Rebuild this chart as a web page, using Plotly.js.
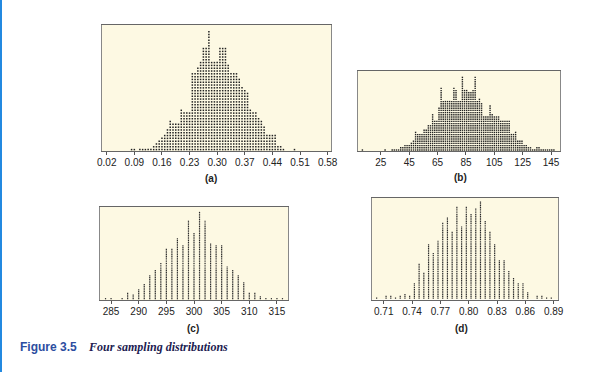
<!DOCTYPE html>
<html>
<head>
<meta charset="utf-8">
<script src="https://cdn.plot.ly/plotly-3.0.1.min.js"></script>
<style>html,body{margin:0;padding:0;background:#fff;}#chart{width:604px;height:380px;}</style>
</head>
<body>
<div id="chart"></div>
<script>
// ---- Panel (a) ----
var aValues = [0.083,0.090,0.104,0.111,0.118,0.125,0.132,0.139,0.146,0.153,0.160,0.167,0.174,0.181,0.188,0.195,0.202,0.209,0.216,0.223,0.230,0.237,0.244,0.251,0.258,0.265,0.272,0.279,0.286,0.293,0.300,0.307,0.314,0.321,0.328,0.335,0.342,0.349,0.356,0.363,0.370,0.377,0.384,0.391,0.398,0.405,0.412,0.419,0.426,0.433,0.440,0.447,0.454,0.461,0.468,0.496];
var aCounts = [1,1,1,1,1,1,1,2,3,4,5,6,8,11,10,10,10,15,14,14,14,28,28,30,32,37,37,43,32,32,32,37,37,37,31,28,28,28,26,23,22,21,15,14,14,12,11,9,6,6,6,6,2,2,1,1];
var aTicks = [0.02,0.09,0.16,0.23,0.30,0.37,0.44,0.51,0.58];
var aTickText = ["0.02","0.09","0.16","0.23","0.30","0.37","0.44","0.51","0.58"];

// ---- Panel (b) ----
var bValues = [12,28,33,34.5,36,37.5,39,40.5,42,43.5,45,46.5,48,49.5,51,52.5,54,55.5,57,58.5,60,61.5,63,64.5,66,67.5,69,70.5,72,73.5,75,76.5,78,79.5,81,82.5,84,85.5,87,88.5,90,91.5,93,94.5,96,97.5,99,100.5,102,103.5,105,106.5,108,109.5,111,112.5,114,115.5,117,118.5,120,121.5,123,124.5,126,127.5,129,130.5,132,133.5,135,136.5,138,139.5,141,142.5,144,145.5,147];
var bCounts = [1,1,1,1,1,1,2,2,3,3,3,4,5,9,8,8,8,10,10,12,12,17,14,14,20,29,23,23,23,23,23,29,28,23,23,34,28,28,27,27,28,34,23,24,22,16,16,16,21,17,16,16,16,14,14,14,14,14,8,8,9,5,5,5,3,3,2,2,1,1,2,2,1,1,1,1,1,1,1];
var bTicks = [25,45,65,85,105,125,145];
var bTickText = ["25","45","65","85","105","125","145"];

// ---- Panel (c) ----
var cValues = [284,285,287,288,289,290,291,292,293,294,295,296,297,298,299,300,301,302,303,304,305,306,307,308,309,310,311,312,313,314,315,316];
var cCounts = [1,1,1,4,3,6,9,14,17,21,29,29,35,31,45,38,50,45,32,31,31,19,17,14,10,4,4,2,1,1,1,1];
var cTicks = [285,290,295,300,305,310,315];
var cTickText = ["285","290","295","300","305","310","315"];

// ---- Panel (d) ----
var dValues = [0.7025,0.7125,0.7175,0.7225,0.7275,0.7325,0.7375,0.7425,0.7475,0.7525,0.7575,0.7625,0.7675,0.7725,0.7775,0.7825,0.7875,0.7925,0.7975,0.8025,0.8075,0.8125,0.8175,0.8225,0.8275,0.8325,0.8375,0.8425,0.8475,0.8525,0.8575,0.8625,0.8725,0.8775,0.8825,0.8875];
var dCounts = [1,2,2,1,2,3,2,9,20,15,31,26,33,43,46,38,52,41,52,48,51,55,44,38,31,22,22,16,12,9,9,4,2,2,1,1];
var dTicks = [0.71,0.74,0.77,0.80,0.83,0.86,0.89];
var dTickText = ["0.71","0.74","0.77","0.80","0.83","0.86","0.89"];

var labels = ["(a)","(b)","(c)","(d)"];
var captionNum = "Figure 3.5";
var captionText = "Four sampling distributions";

function dots(values, counts, xa, ya, size, color) {
  var xs = [], ys = [];
  for (var i = 0; i < values.length; i++) {
    for (var j = 1; j <= counts[i]; j++) { xs.push(values[i]); ys.push(j); }
  }
  return {type:'scatter', mode:'markers', x:xs, y:ys, xaxis:xa, yaxis:ya, hoverinfo:'skip',
    marker:{symbol:'square', size:size, color:color, line:{width:0}}};
}

var W = 604, H = 380;
function dx(l, r) { return [l / W, r / W]; }
function dy(t, b) { return [1 - b / H, 1 - t / H]; }

var tickFont = {family:'Liberation Sans, Arial, sans-serif', size:10, color:'#222'};
function xax(dom, range, tv, tt) {
  return {domain:dom, range:range, tickvals:tv, ticktext:tt, ticks:'outside', ticklen:3, tickwidth:1,
    tickcolor:'#555', tickfont:tickFont, ticklabelstandoff:-1, showgrid:false, zeroline:false, showline:true,
    linecolor:'#666', linewidth:1, mirror:true, fixedrange:true};
}
function yax(dom, range) {
  return {domain:dom, range:range, showticklabels:false, ticks:'', showgrid:false, zeroline:false,
    showline:true, linecolor:'#888', linewidth:1, mirror:true, fixedrange:true};
}

var data = [
  dots(aValues, aCounts, 'x', 'y', 1.5, '#222'),
  dots(bValues, bCounts, 'x2', 'y2', 1.4, '#222'),
  dots(cValues, cCounts, 'x3', 'y3', 1.2, '#2a2a2a'),
  dots(dValues, dCounts, 'x4', 'y4', 1.2, '#2a2a2a')
];

var xa1 = xax(dx(102,331), [0.008,0.5886], aTicks, aTickText); xa1.anchor='y';
var xa2 = xax(dx(358,560), [8.9,151.3], bTicks, bTickText); xa2.anchor='y2';
var xa3 = xax(dx(100,288), [283,317], cTicks, cTickText); xa3.anchor='y3';
var xa4 = xax(dx(372,558), [0.6976,0.8946], dTicks, dTickText); xa4.anchor='y4';
var ya1 = yax(dy(25,151), [0.5,45.4]); ya1.anchor='x';
var ya2 = yax(dy(71,151), [0.55,36.9]); ya2.anchor='x2';
var ya3 = yax(dy(207,300), [0.26,53.1]); ya3.anchor='x3';
var ya4 = yax(dy(198,299.5), [0.27,57.3]); ya4.anchor='x4';

var labFont = {family:'Liberation Sans, Arial, sans-serif', size:10, color:'#222'};
function lab(text, x, y) {
  return {text:'<b>'+text+'</b>', xref:'paper', yref:'paper', x:x/W, y:1-y/H, showarrow:false,
    xanchor:'center', yanchor:'middle', font:labFont};
}

var layout = {
  width:W, height:H, margin:{l:0,r:0,t:0,b:0}, paper_bgcolor:'#ffffff', plot_bgcolor:'#fdf9e3',
  showlegend:false,
  xaxis:xa1, yaxis:ya1, xaxis2:xa2, yaxis2:ya2, xaxis3:xa3, yaxis3:ya3, xaxis4:xa4, yaxis4:ya4,
  annotations:[
    lab(labels[0], 211, 178), lab(labels[1], 460, 177), lab(labels[2], 193, 328), lab(labels[3], 461, 328),
    {text:'<b>'+captionNum+'</b>', xref:'paper', yref:'paper', x:18/W, y:1-347/H, showarrow:false,
      xanchor:'left', yanchor:'middle', font:{family:'Liberation Sans, Arial, sans-serif', size:12, color:'#2c4da0'}},
    {text:'<b><i>'+captionText+'</i></b>', xref:'paper', yref:'paper', x:86/W, y:1-347/H, showarrow:false,
      xanchor:'left', yanchor:'middle', font:{family:'Liberation Serif, Times New Roman, serif', size:12, color:'#1c2050'}}
  ],
  shapes:[
    {type:'line', xref:'paper', yref:'paper', x0:1/W, x1:1/W, y0:1, y1:1-372/H, line:{color:'#2389e0', width:2}}
  ]
};

Plotly.newPlot('chart', data, layout, {staticPlot:true, displayModeBar:false});
</script>
</body>
</html>
